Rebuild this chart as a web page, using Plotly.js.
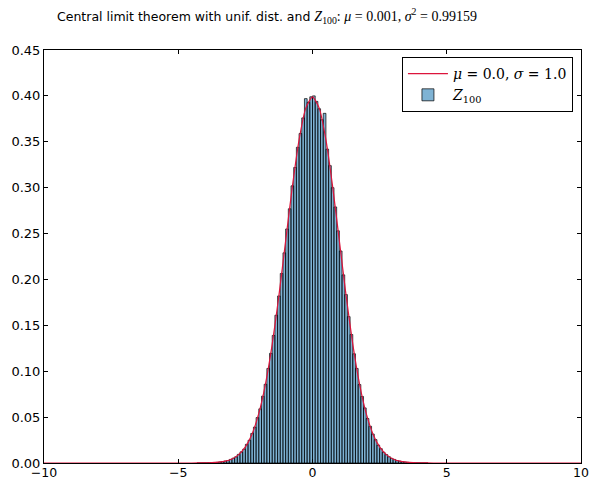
<!DOCTYPE html>
<html>
<head>
<meta charset="utf-8">
<script src="https://cdn.plot.ly/plotly-3.0.1.min.js"></script>
<style>html,body{margin:0;padding:0;background:#fff;}#chart{width:593px;height:480px;}</style>
</head>
<body>
<div id="chart"></div>
<script>
// Histogram of Z_100 (bin width 0.1, first bin centre -4.25)
const binStart = -4.25;
const binWidth = 0.1;
const histDensity = [
  0.0001, 0.0001, 0.0002, 0.0002, 0.0003, 0.0004, 0.0006, 0.0007, 0.0011, 0.0015,
  0.0021, 0.0027, 0.0039, 0.0052, 0.0067, 0.0094, 0.0121, 0.0150, 0.0203, 0.0248,
  0.0322, 0.0391, 0.0495, 0.0590, 0.0728, 0.0858, 0.1030, 0.1195, 0.1390, 0.1610,
  0.1820, 0.2065, 0.2290, 0.2550, 0.2770, 0.3020, 0.3220, 0.3440, 0.3590, 0.3760,
  0.3970, 0.3930, 0.3990, 0.4000, 0.3940, 0.3860, 0.3740, 0.3810, 0.3420, 0.3240,
  0.3000, 0.2790, 0.2530, 0.2310, 0.2050, 0.1835, 0.1595, 0.1400, 0.1190, 0.1030,
  0.0855, 0.0725, 0.0600, 0.0485, 0.0400, 0.0315, 0.0255, 0.0195, 0.0156, 0.0117,
  0.0092, 0.0068, 0.0050, 0.0039, 0.0027, 0.0020, 0.0014, 0.0010, 0.0007, 0.0005,
  0.0003, 0.0002, 0.0002, 0.0001, 0.0001, 0.0001
];

// Reference normal curve (mu = 0, sigma = 1)
const curveX = [-10, -5, -4.5, -4, -3.75, -3.5, -3.25, -3, -2.75, -2.5, -2.25, -2, -1.75, -1.5, -1.25, -1, -0.75, -0.5, -0.25, 0,
                0.25, 0.5, 0.75, 1, 1.25, 1.5, 1.75, 2, 2.25, 2.5, 2.75, 3, 3.25, 3.5, 3.75, 4, 4.5, 5, 10];
const curveY = [0, 0, 0.0000, 0.0001, 0.0004, 0.0009, 0.0020, 0.0044, 0.0091, 0.0175, 0.0317, 0.0540, 0.0863, 0.1295, 0.1826, 0.2420, 0.3011, 0.3521, 0.3867, 0.3989,
                0.3867, 0.3521, 0.3011, 0.2420, 0.1826, 0.1295, 0.0863, 0.0540, 0.0317, 0.0175, 0.0091, 0.0044, 0.0020, 0.0009, 0.0004, 0.0001, 0.0000, 0, 0];

const xTicks = [-10, -5, 0, 5, 10];
const xTickText = ['\u221210', '\u22125', '0', '5', '10'];
const yTicks = [0, 0.05, 0.10, 0.15, 0.20, 0.25, 0.30, 0.35, 0.40, 0.45];
const yTickText = ['0.00', '0.05', '0.10', '0.15', '0.20', '0.25', '0.30', '0.35', '0.40', '0.45'];

const serif = "font-family:'DejaVu Serif'";
const mathTitle = "font-family:'Liberation Serif';font-size:14px";

const traces = [
  {
    type: 'scatter', mode: 'lines',
    x: curveX, y: curveY,
    line: {color: '#dc143c', width: 1.2, shape: 'spline', smoothing: 0.6},
    name: '<span style="' + serif + '"><i>μ</i> = 0.0, <i>σ</i> = 1.0</span>'
  },
  {
    type: 'bar',
    x0: binStart, dx: binWidth, y: histDensity,
    width: binWidth,
    marker: {color: 'rgba(0,104,170,0.5)', line: {color: 'rgba(0,0,0,0.7)', width: 1}},
    name: '<span style="' + serif + '"><i>Z</i><sub>100</sub></span>'
  }
];

const layout = {
  width: 593, height: 480,
  paper_bgcolor: '#fff', plot_bgcolor: '#fff',
  margin: {l: 44, r: 12, t: 50, b: 17, pad: 0},
  font: {family: 'DejaVu Sans', size: 13, color: '#000'},
  title: {
    text: 'Central limit theorem with unif. dist. and <span style="' + mathTitle + '"><i>Z</i><sub>100</sub>: <i>μ</i> = 0.001, <i>σ</i><sup>2</sup> = 0.99159</span>',
    font: {family: 'DejaVu Sans', size: 12.5, color: '#000'},
    x: 57 / 593, xref: 'container', xanchor: 'left',
    y: 1 - 17 / 480, yref: 'container', yanchor: 'middle'
  },
  showlegend: true,
  legend: {
    x: 0.985, y: 0.983, xanchor: 'right', yanchor: 'top',
    bgcolor: '#fff', bordercolor: '#000', borderwidth: 1,
    font: {family: 'DejaVu Serif', size: 14, color: '#000'},
    traceorder: 'normal',
    itemwidth: 40
  },
  bargap: 0,
  barmode: 'overlay',
  xaxis: {
    range: [-10, 10], autorange: false,
    tickvals: xTicks, ticktext: xTickText,
    ticks: 'inside', ticklen: 4, tickcolor: '#000', tickwidth: 1,
    showline: true, linecolor: '#000', linewidth: 1, mirror: 'ticks',
    showgrid: false, zeroline: false,
    ticklabelstandoff: -2,
    tickfont: {family: 'DejaVu Sans', size: 12.5, color: '#000'}
  },
  yaxis: {
    range: [0, 0.45], autorange: false,
    tickvals: yTicks, ticktext: yTickText,
    ticks: 'inside', ticklen: 4, tickcolor: '#000', tickwidth: 1,
    showline: true, linecolor: '#000', linewidth: 1, mirror: 'ticks',
    showgrid: false, zeroline: false,
    tickfont: {family: 'DejaVu Sans', size: 13, color: '#000'}
  }
};

Plotly.newPlot('chart', traces, layout, {displayModeBar: false, staticPlot: true});
</script>
</body>
</html>
